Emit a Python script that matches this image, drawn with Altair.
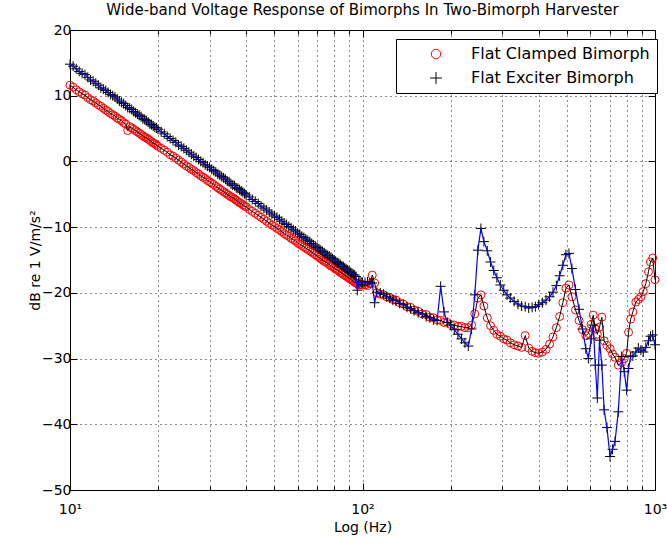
import altair as alt
import pandas as pd

# ---------------- data ----------------
# 10 - 20 Hz
freq_a = [10, 10.25, 10.5, 10.75, 11, 11.25, 11.5, 11.75, 12, 12.25, 12.5, 12.75, 13, 13.25, 13.5,
          13.75, 14, 14.25, 14.5, 14.75, 15, 15.25, 15.5, 15.75, 16, 16.25, 16.5, 16.75, 17, 17.25,
          17.5, 17.75, 18, 18.25, 18.5, 18.75, 19, 19.25, 19.5, 19.75, 20]
exciter_a = [14.8, 14.5, 14.1, 13.7, 13.4, 13.2, 12.8, 12.4, 12.2, 11.9, 11.6, 11.2, 11.0, 10.8, 10.5,
             10.2, 10.0, 9.8, 9.5, 9.2, 9.0, 8.8, 8.5, 8.2, 8.1, 7.9, 7.6, 7.4, 7.2, 7.0,
             6.8, 6.5, 6.4, 6.2, 6.0, 5.7, 5.6, 5.4, 5.2, 5.1, 4.9]
clamped_a = [11.6, 11.3, 10.9, 10.6, 10.3, 10.1, 9.7, 9.4, 9.2, 8.9, 8.6, 8.4, 8.1, 7.8, 7.6,
             7.3, 7.1, 6.9, 6.6, 6.4, 6.2, 5.9, 5.7, 4.7, 5.3, 5.1, 4.9, 4.7, 4.5, 4.3,
             4.1, 3.9, 3.7, 3.6, 3.4, 3.2, 3.0, 2.8, 2.7, 2.5, 2.3]
# 20.5 - 40 Hz
freq_b = [20.5, 21, 21.5, 22, 22.5, 23, 23.5, 24, 24.5, 25, 25.5, 26, 26.5, 27, 27.5, 28, 28.5, 29,
          29.5, 30, 30.5, 31, 31.5, 32, 32.5, 33, 33.5, 34, 34.5, 35, 35.5, 36, 36.5, 37, 37.5, 38,
          38.5, 39, 39.5, 40]
exciter_b = [4.5, 4.2, 3.8, 3.5, 3.2, 2.9, 2.5, 2.3, 2.0, 1.7, 1.4, 1.1, 0.8, 0.6, 0.3, 0.0, -0.2, -0.5,
             -0.7, -0.9, -1.2, -1.4, -1.6, -1.9, -2.1, -2.3, -2.5, -2.7, -3.0, -3.1, -3.4, -3.6, -3.7,
             -4.0, -4.1, -4.3, -4.5, -4.7, -4.9, -5.1]
clamped_b = [2.0, 1.7, 1.4, 1.0, 0.8, 0.5, 0.2, -0.1, -0.4, -0.7, -0.9, -1.2, -1.4, -1.7, -1.9, -2.2,
             -2.4, -2.6, -2.9, -3.1, -3.3, -3.5, -3.8, -4.0, -4.2, -4.4, -4.6, -4.8, -5.0, -5.2, -5.4,
             -5.5, -5.7, -5.9, -6.1, -6.3, -6.4, -6.6, -6.8, -6.9]
# 41 - 100 Hz
freq_c = [41, 42, 43, 44, 45, 46, 47, 48, 49, 50, 51, 52, 53, 54, 55, 56, 57, 58, 59, 60,
          61, 62, 63, 64, 65, 66, 67, 68, 69, 70, 71, 72, 73, 74, 75, 76, 77, 78, 79, 80,
          81, 82, 83, 84, 85, 86, 87, 88, 89, 90, 91, 92, 93, 94, 95, 96, 97, 98, 99, 100]
exciter_c = [-5.4, -5.8, -6.1, -6.4, -6.8, -7.1, -7.4, -7.7, -8.0, -8.3,
             -8.5, -8.8, -9.1, -9.4, -9.6, -9.9, -10.1, -10.4, -10.6, -10.9,
             -11.1, -11.4, -11.6, -11.8, -12.0, -12.2, -12.5, -12.7, -12.9, -13.1,
             -13.3, -13.5, -13.7, -13.9, -14.1, -14.3, -14.4, -14.6, -14.8, -15.0,
             -15.2, -15.4, -15.5, -15.7, -15.9, -16.0, -16.2, -16.4, -16.5, -16.7,
             -16.9, -17.0, -17.2, -17.3, -17.5, -19.6, -18.4, -18.3, -18.4, -18.4]
clamped_c = [-7.3, -7.6, -7.9, -8.2, -8.5, -8.8, -9.1, -9.4, -9.7, -9.9,
             -10.2, -10.4, -10.7, -11.0, -11.2, -11.4, -11.7, -11.9, -12.1, -12.4,
             -12.6, -12.8, -13.0, -13.2, -13.4, -13.6, -13.8, -14.0, -14.2, -14.4,
             -14.6, -14.8, -15.0, -15.2, -15.3, -15.5, -15.7, -15.9, -16.0, -16.2,
             -16.4, -16.5, -16.7, -16.9, -17.0, -17.2, -17.3, -17.5, -17.6, -17.8,
             -17.9, -18.1, -18.2, -18.4, -18.5, -18.6, -18.8, -18.8, -18.7, -18.8]
# 102 - 565 Hz
freq_mid = [102, 104, 106, 108, 110, 112, 115, 118, 121, 124, 127, 130, 134, 138, 142, 146, 150,
            155, 160, 165, 170, 175, 180, 185, 190, 195, 200, 206, 212, 218, 224, 230, 236, 242, 248, 254,
            260, 267, 274, 281, 288, 296, 304, 312, 320, 330, 340, 350, 360, 370, 380, 390, 400,
            412, 424, 436, 448, 460, 472, 484, 496, 508, 520, 535, 550, 565]
exciter_mid = [-18.4, -18.3, -18.5, -18.5, -21.5, -19.9, -20.0, -20.2, -20.6, -20.8, -21.1, -21.2,
               -21.6, -21.8, -22.2, -22.4, -22.7,
               -23.0, -23.2, -23.6, -23.8, -24.1, -24.2, -19.0, -22.9, -24.5, -24.9,
               -25.6, -26.3, -27.0, -27.6, -28.1, -25.5, -20.3, -13.5, -10.2,
               -12.2, -13.6, -15.3, -16.6, -17.7, -18.8, -19.6, -20.3, -20.8,
               -21.3, -21.7, -22.0, -22.1, -22.3, -22.2, -22.1, -21.8,
               -21.5, -21.1, -20.6, -19.9, -18.9, -17.4, -15.8, -14.2, -14.0,
               -16.3, -19.5, -22.5, -25.5]
clamped_mid = [-18.8, -18.9, -18.6, -17.3, -18.5, -20.0, -20.2, -20.3, -20.6, -20.7, -21.0, -21.1,
               -21.5, -21.7, -22.1, -22.2, -22.6,
               -22.8, -23.2, -23.3, -23.7, -23.8, -24.1, -24.2, -24.5, -24.5, -24.8,
               -24.9, -25.1, -25.1, -25.3, -25.3, -24.9, -23.2, -20.8, -20.3,
               -22.0, -23.8, -25.0, -25.7, -26.3, -26.6, -27.0, -27.2, -27.6,
               -27.9, -28.1, -28.3, -26.5, -28.4, -28.9, -29.1, -29.2,
               -29.0, -28.6, -27.8, -26.7, -25.3, -23.6, -21.5, -19.3, -18.8,
               -20.6, -22.6, -24.2, -25.6]
# 580 - 1000 Hz
freq_high = [580, 592, 605, 615, 625, 635, 646, 658, 670, 685, 702, 716, 730, 749, 769, 785, 800,
             812, 826, 840, 860, 877, 895, 912, 930, 950, 965, 982, 1000]
exciter_high = [-28.5, -30.0, -27.0, -24.9, -31.0, -36.0, -27.2, -31.0, -37.8, -40.5, -44.9, -43.8,
                -42.6, -38.1, -29.7, -32.0, -34.8, -31.5, -29.7, -29.6, -29.0, -28.4, -28.7, -29.0,
                -28.3, -27.3, -26.6, -26.4, -27.9]
clamped_high = [-26.5, -26.2, -24.8, -23.4, -25.5, -26.3, -25.2, -23.7, -27.3, -28.0, -28.5, -29.3,
                -29.8, -31.0, -30.6, -30.0, -29.2, -26.0, -24.0, -22.9, -21.4, -21.0, -20.6, -19.8,
                -18.6, -16.8, -15.3, -14.7, -18.0]

series_names = ["Flat Clamped Bimorph", "Flat Exciter Bimorph"]
x_major = [10, 100, 1000]
x_minor = [20, 30, 40, 50, 60, 70, 80, 90, 200, 300, 400, 500, 600, 700, 800, 900]
y_ticks = [-50, -40, -30, -20, -10, 0, 10, 20]

freq = freq_a + freq_b + freq_c + freq_mid + freq_high
clamped = clamped_a + clamped_b + clamped_c + clamped_mid + clamped_high
exciter = exciter_a + exciter_b + exciter_c + exciter_mid + exciter_high
assert len(freq) == len(clamped) == len(exciter), (len(freq), len(clamped), len(exciter))

df = pd.DataFrame({
    "freq": freq + freq,
    "db": clamped + exciter,
    "series": [series_names[0]] * len(freq) + [series_names[1]] * len(freq),
})

# ---------------- styling ----------------
FONT = "DejaVu Sans"
PLUS = "M-1.25,0L1.25,0M0,-1.25L0,1.25"

xscale = alt.Scale(type="log", domain=[10, 1000], nice=False)
yscale = alt.Scale(domain=[-50, 20], nice=False)


def ax(orient, values, size, labels=False, grid=False, **kw):
    return alt.Axis(
        orient=orient, values=values, tickSize=alt.ExprRef(expr=str(-size)),
        tickColor="black", tickWidth=1, domain=False, labels=labels, grid=grid,
        gridDash=[1, 4], gridColor="black", gridOpacity=0.9, gridWidth=1,
        labelFont=FONT, labelFontSize=14, labelColor="black", labelFlush=False,
        labelOverlap=False, titleFont=FONT, titleFontSize=14, titleFontWeight="normal",
        titleColor="black", **kw)


legend = alt.Legend(
    orient="none", legendX=326, legendY=9, title=None, strokeColor="black",
    fillColor="white", padding=7, labelFont=FONT, labelFontSize=16, labelColor="black",
    labelLimit=400, symbolSize=90, symbolStrokeWidth=1, symbolOffset=25, labelOffset=27,
    rowPadding=8, cornerRadius=0)

color = alt.Color("series:N", scale=alt.Scale(domain=series_names, range=["#ff0000", "#000000"]),
                  legend=legend)
shape = alt.Shape("series:N", scale=alt.Scale(domain=series_names, range=["circle", PLUS]),
                  legend=legend)

base = alt.Chart(df)

clamped_pts = base.transform_filter(alt.datum.series == series_names[0]).mark_point(
    filled=False, size=64, strokeWidth=1, opacity=1).encode(
    x=alt.X("freq:Q", scale=xscale, axis=ax(
        "bottom", x_major, 7, labels=True, grid=True,
        labelExpr="datum.value == 10 ? '10¹' : datum.value == 100 ? '10²' : '10³'",
        labelPadding=19, labelBaseline="top", titleY=37, titleBaseline="middle"),
        title="Log (Hz)"),
    y=alt.Y("db:Q", scale=yscale, axis=ax(
        "left", y_ticks, 7, labels=True, grid=True, labelPadding=6,
        titleX=-35, titleY=230, titleAngle=270, titleAlign="center", titleBaseline="middle"),
        title="dB re 1 V/m/s²"),
    color=color, shape=shape)

clamped_line = base.transform_filter(alt.datum.series == series_names[0]).mark_line(
    color="black", strokeWidth=1).encode(
    x=alt.X("freq:Q", scale=xscale, axis=ax("bottom", x_minor, 4, grid=True), title=None),
    y=alt.Y("db:Q", scale=yscale, axis=ax("right", y_ticks, 7), title=None))

exciter_pts = base.transform_filter(alt.datum.series == series_names[1]).mark_point(
    filled=False, size=64, strokeWidth=1, opacity=1).encode(
    x=alt.X("freq:Q", scale=xscale, axis=ax("top", x_major, 7), title=None),
    y=alt.Y("db:Q", scale=yscale, axis=None),
    color=color, shape=shape)

exciter_line = base.transform_filter(alt.datum.series == series_names[1]).mark_line(
    color="#0000ff", strokeWidth=1.2).encode(
    x=alt.X("freq:Q", scale=xscale, axis=ax("top", x_minor, 4), title=None),
    y=alt.Y("db:Q", scale=yscale, axis=None))

chart = alt.layer(clamped_pts, clamped_line, exciter_pts, exciter_line).resolve_axis(
    x="independent", y="independent"
).properties(
    width=585, height=460,
    autosize=alt.AutoSizeParams(type="none"),
    padding={"left": 70, "top": 30, "right": 12, "bottom": 58},
    background="white",
    title=alt.TitleParams(
        text="Wide-band Voltage Response of Bimorphs In Two-Bimorph Harvester",
        font=FONT, fontSize=15, fontWeight="normal", color="black", anchor="middle",
        baseline="alphabetic", offset=4, dy=11),
).configure_view(stroke="black", strokeWidth=1)

chart.save("out.html", embed_options={"renderer": "svg", "actions": False})
